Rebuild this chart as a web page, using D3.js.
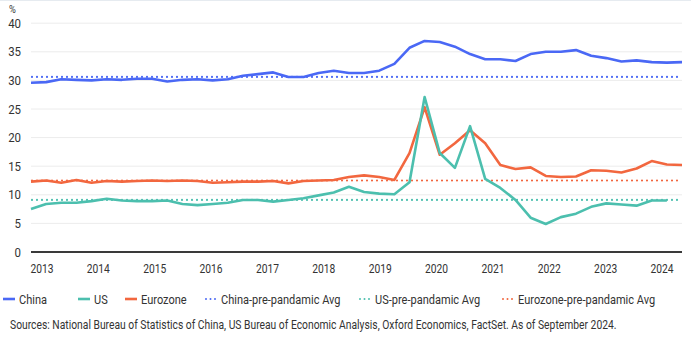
<!DOCTYPE html>
<html>
<head>
<meta charset="utf-8">
<script src="https://cdn.jsdelivr.net/npm/d3@7"></script>
<style>
  body { margin: 0; background: #fff; }
  svg text { font-family: "Roboto", "Liberation Sans", sans-serif; fill: #333; }
</style>
</head>
<body>
<svg width="691" height="338"></svg>
<script>
// quarterly savings rates, 2013Q4 .. 2024Q3
var quarters = [];
for (var yr = 2013; yr <= 2024; yr++) {
  for (var q = 1; q <= 4; q++) {
    if ((yr === 2013 && q < 4) || (yr === 2024 && q > 3)) continue;
    quarters.push(yr + "Q" + q);
  }
}

var china = [29.6, 29.7, 30.2, 30.1, 30.0, 30.2, 30.1, 30.3, 30.3, 29.8,
             30.1, 30.2, 30.0, 30.2, 30.8, 31.1, 31.4, 30.6, 30.6, 31.3,
             31.7, 31.3, 31.3, 31.7, 32.9, 35.7, 36.9, 36.7, 35.9, 34.6,
             33.7, 33.7, 33.4, 34.6, 35.0, 35.0, 35.3, 34.3, 33.9, 33.3,
             33.5, 33.2, 33.1, 33.2];
var us = [7.5, 8.4, 8.6, 8.6, 8.9, 9.3, 9.0, 8.9, 8.9, 9.0,
          8.4, 8.2, 8.4, 8.6, 9.1, 9.1, 8.8, 9.1, 9.4, 9.9,
          10.4, 11.4, 10.5, 10.2, 10.1, 12.2, 27.1, 17.3, 14.7, 22.0,
          12.8, 11.2, 9.1, 6.0, 4.9, 6.1, 6.7, 7.9, 8.5, 8.3,
          8.1, 9.0, 9.0];
var eurozone = [12.3, 12.5, 12.1, 12.6, 12.1, 12.4, 12.3, 12.4, 12.5, 12.4,
                12.5, 12.4, 12.1, 12.2, 12.3, 12.3, 12.4, 12.0, 12.4, 12.5,
                12.6, 13.1, 13.4, 13.1, 12.6, 17.3, 25.3, 17.0, 19.0, 21.3,
                19.0, 15.2, 14.5, 14.8, 13.3, 13.1, 13.2, 14.3, 14.2, 13.9,
                14.6, 15.9, 15.3, 15.2];

var chinaAvg = 30.6, usAvg = 9.1, eurozoneAvg = 12.5;

var yTicks = [0, 5, 10, 15, 20, 25, 30, 35, 40];
var yearLabels = [2013, 2014, 2015, 2016, 2017, 2018, 2019, 2020, 2021, 2022, 2023, 2024];

var colors = { china: "#4a68f5", us: "#4cbfae", eurozone: "#f2673f" };

var svg = d3.select("svg");

var x = d3.scalePoint().domain(quarters).range([31, 682]);
var yearX = d3.scaleLinear().domain([2013, 2024]).range([42, 662]);
var y = d3.scaleLinear().domain([0, 40]).range([252, 23.2]);

// narrow type: squeeze glyphs horizontally around the anchor
function placeText(sel, px, py, sx) {
  return sel.attr("x", 0).attr("y", 0)
    .attr("transform", function(d, i) {
      var a = typeof px === "function" ? px(d, i) : px;
      var b = typeof py === "function" ? py(d, i) : py;
      return "translate(" + a + "," + b + ") scale(" + sx + ",1)";
    });
}

// faint frame line on top
svg.append("line")
  .attr("x1", 0).attr("x2", 691).attr("y1", 0.5).attr("y2", 0.5)
  .attr("stroke", "#e6ebf0").attr("stroke-width", 1);

// horizontal grid
svg.append("g")
  .selectAll("line")
  .data(yTicks.filter(function(d) { return d > 0; }))
  .enter().append("line")
    .attr("x1", 31).attr("x2", 682)
    .attr("y1", function(d) { return y(d); })
    .attr("y2", function(d) { return y(d); })
    .attr("stroke", "#ececec").attr("stroke-width", 1);

// y labels
placeText(svg.append("g")
  .selectAll("text")
  .data(yTicks)
  .enter().append("text"), 21, function(d) { return y(d) + 4.5; }, 0.88)
    .attr("text-anchor", "end")
    .style("font-size", "13px")
    .text(function(d) { return d; });

placeText(svg.append("text"), 9, 13, 0.85)
  .style("font-size", "11px")
  .text("%");

// zero line
svg.append("line")
  .attr("x1", 31).attr("x2", 682).attr("y1", y(0)).attr("y2", y(0))
  .attr("stroke", "#3a3a3a").attr("stroke-width", 2);

// year labels
placeText(svg.append("g")
  .selectAll("text")
  .data(yearLabels)
  .enter().append("text"), function(d) { return yearX(d); }, 273, 0.82)
    .attr("text-anchor", "middle")
    .style("font-size", "12.5px")
    .text(function(d) { return d; });

// pre-pandemic averages
var avgs = [
  { v: chinaAvg, c: colors.china },
  { v: usAvg, c: colors.us },
  { v: eurozoneAvg, c: colors.eurozone }
];
svg.append("g")
  .selectAll("line")
  .data(avgs)
  .enter().append("line")
    .attr("x1", 32).attr("x2", 682)
    .attr("y1", function(d) { return y(d.v); })
    .attr("y2", function(d) { return y(d.v); })
    .attr("stroke", function(d) { return d.c; })
    .attr("stroke-width", 2.2)
    .attr("stroke-linecap", "round")
    .attr("stroke-dasharray", "0 5");

var line = d3.line()
  .x(function(d, i) { return x(quarters[i]); })
  .y(function(d) { return y(d); });

[[eurozone, colors.eurozone], [us, colors.us], [china, colors.china]].forEach(function(s) {
  svg.append("path")
    .attr("d", line(s[0]))
    .attr("fill", "none")
    .attr("stroke", s[1])
    .attr("stroke-width", 2.6)
    .attr("stroke-linejoin", "round");
});

// legend
var legendItems = [
  { label: "China", c: colors.china, dot: false, x: 3 },
  { label: "US", c: colors.us, dot: false, x: 78 },
  { label: "Eurozone", c: colors.eurozone, dot: false, x: 125 },
  { label: "China-pre-pandamic Avg", c: colors.china, dot: true, x: 205 },
  { label: "US-pre-pandamic Avg", c: colors.us, dot: true, x: 359 },
  { label: "Eurozone-pre-pandamic Avg", c: colors.eurozone, dot: true, x: 502 }
];
var legend = svg.append("g")
  .selectAll("g")
  .data(legendItems)
  .enter().append("g")
  .attr("transform", function(d) { return "translate(" + d.x + ",299)"; });

legend.append("line")
  .attr("x1", function(d) { return d.dot ? 1 : 0; })
  .attr("x2", function(d) { return d.dot ? 11 : 12; })
  .attr("stroke", function(d) { return d.c; })
  .attr("stroke-width", function(d) { return d.dot ? 2 : 2.6; })
  .attr("stroke-linecap", function(d) { return d.dot ? "round" : "butt"; })
  .attr("stroke-dasharray", function(d) { return d.dot ? "0 4.5" : null; });

placeText(legend.append("text"), 16, 4.5, 0.92)
  .style("font-size", "12px")
  .text(function(d) { return d.label; });

placeText(svg.append("text"), 10, 329, 0.86)
  .style("font-size", "12px")
  .text("Sources: National Bureau of Statistics of China, US Bureau of Economic Analysis, Oxford Economics, FactSet. As of September 2024.");
</script>
</body>
</html>
